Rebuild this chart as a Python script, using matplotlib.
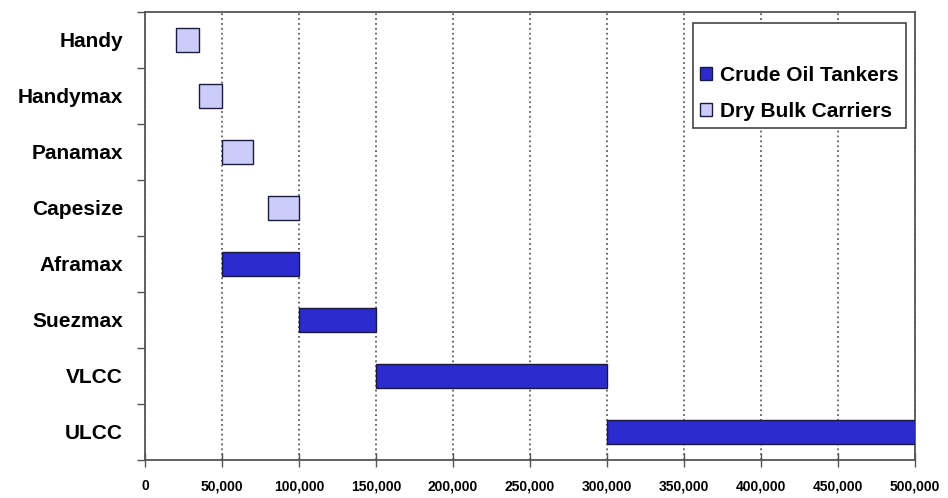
import matplotlib.pyplot as plt
import matplotlib.patches as mpatches
import numpy as np

# ship size classes, deadweight tonnage ranges
categories = ["Handy", "Handymax", "Panamax", "Capesize",
              "Aframax", "Suezmax", "VLCC", "ULCC"]
dwt_low = [20000, 35000, 50000, 80000, 50000, 100000, 150000, 300000]
dwt_high = [35000, 50000, 70000, 100000, 100000, 150000, 300000, 500000]
ship_type = ["dry", "dry", "dry", "dry", "crude", "crude", "crude", "crude"]

x_ticks = [0, 50000, 100000, 150000, 200000, 250000, 300000, 350000, 400000, 450000, 500000]
x_tick_labels = ["0", "50,000", "100,000", "150,000", "200,000", "250,000",
                 "300,000", "350,000", "400,000", "450,000", "500,000"]

crude_color = "#2B2BCF"
dry_color = "#CCCCF8"
font = ["Liberation Sans", "DejaVu Sans"]

fig = plt.figure(figsize=(9.48, 4.98), dpi=100)
ax = fig.add_axes([0.153, 0.0763, 0.812, 0.8997])

y = np.arange(len(categories))
low = np.array(dwt_low)
high = np.array(dwt_high)
colors = [crude_color if t == "crude" else dry_color for t in ship_type]
ax.barh(y, high - low, left=low, height=0.42, color=colors,
        edgecolor="#1a1a40", linewidth=1.0, zorder=3)

ax.set_xlim(0, 500000)
ax.set_ylim(len(categories) - 0.5, -0.5)

ax.set_xticks(x_ticks)
ax.set_xticklabels(x_tick_labels, fontfamily=font, fontweight="bold", fontsize=10)
ax.tick_params(axis="x", direction="inout", length=10, width=1, color="#555555", pad=9)

ax.set_yticks(y)
ax.set_yticklabels(categories, fontfamily=font, fontweight="bold", fontsize=15)
ax.tick_params(axis="y", length=0, pad=16)
ax.set_yticks(np.arange(len(categories) + 1) - 0.5, minor=True)
ax.tick_params(axis="y", which="minor", direction="out", length=6, width=1, color="#555555")

ax.grid(axis="x", linestyle=(0, (1.2, 2.0)), color="#444444", linewidth=1.1, zorder=1)

for side in ["left", "bottom", "top", "right"]:
    ax.spines[side].set_color("#555555")
    ax.spines[side].set_linewidth(1.3)

handles = [
    mpatches.Patch(facecolor="none", edgecolor="none", label=" "),
    mpatches.Patch(facecolor=crude_color, edgecolor="#1a1a40", label="Crude Oil Tankers"),
    mpatches.Patch(facecolor=dry_color, edgecolor="#1a1a40", label="Dry Bulk Carriers"),
]
leg = ax.legend(handles=handles, loc="upper right", bbox_to_anchor=(0.988, 0.975),
                borderaxespad=0, fancybox=False, framealpha=1,
                edgecolor="#444444", handlelength=0.6, handleheight=0.6,
                handletextpad=0.35, labelspacing=0.8, borderpad=0.35,
                prop={"family": font, "weight": "bold", "size": 15})
leg.get_frame().set_linewidth(1.2)
leg.set_zorder(5)

fig.savefig("out.png", dpi=100)
